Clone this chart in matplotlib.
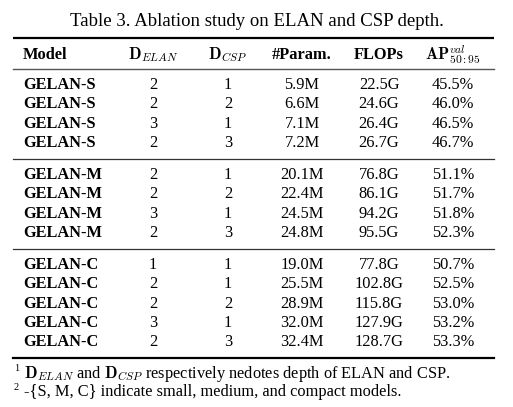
import matplotlib
matplotlib.use("Agg")
import matplotlib.pyplot as plt

plt.rc("font", family="Liberation Serif")
plt.rc("mathtext", fontset="cm")

# table data
models = ["GELAN-S"] * 4 + ["GELAN-M"] * 4 + ["GELAN-C"] * 5
d_elan = [2, 2, 3, 2, 2, 2, 3, 2, 1, 2, 2, 3, 2]
d_csp = [1, 2, 1, 3, 1, 2, 1, 3, 1, 1, 2, 1, 3]
params = ["5.9M", "6.6M", "7.1M", "7.2M",
          "20.1M", "22.4M", "24.5M", "24.8M",
          "19.0M", "25.5M", "28.9M", "32.0M", "32.4M"]
flops = ["22.5G", "24.6G", "26.4G", "26.7G",
         "76.8G", "86.1G", "94.2G", "95.5G",
         "77.8G", "102.8G", "115.8G", "127.9G", "128.7G"]
ap = ["45.5%", "46.0%", "46.5%", "46.7%",
      "51.1%", "51.7%", "51.8%", "52.3%",
      "50.7%", "52.5%", "53.0%", "53.2%", "53.3%"]
group_sizes = [4, 4, 5]

D_ELAN = r"\mathbf{D}_{ELAN}"
D_CSP = r"\mathbf{D}_{CSP}"
headers = ["Model", "$" + D_ELAN + "$", "$" + D_CSP + "$",
           "#Param.", "FLOPs", r"$\mathbf{AP}^{val}_{50{:}95}$"]
title = "Table 3. Ablation study on ELAN and CSP depth."
notes = ["$" + D_ELAN + "$ and $" + D_CSP + "$ respectively nedotes depth of ELAN and CSP.",
         "-{S, M, C} indicate small, medium, and compact models."]

W, H = 513, 407
fig = plt.figure(figsize=(W / 100, H / 100), dpi=100)
ax = fig.add_axes([0, 0, 1, 1])
ax.set_xlim(0, W)
ax.set_ylim(H, 0)
ax.axis("off")

fs = 11.8
col_x = [23, 153, 228, 302, 379, 453]
x0, x1 = 13, 494

ax.text(W / 2, 21, title, ha="center", va="center", fontsize=13.5)

ax.plot([x0, x1], [38, 38], color="black", lw=1.6, solid_capstyle="butt")
hy = 55
for i, h in enumerate(headers):
    ax.text(col_x[i], hy, h, ha="left" if i == 0 else "center", va="center",
            fontsize=fs, fontweight="bold")
ax.plot([x0, x1], [69, 69], color="#555555", lw=1.0)

row_h = 19.4
y = 85
k = 0
for g, n in enumerate(group_sizes):
    for _ in range(n):
        cells = [models[k], str(d_elan[k]), str(d_csp[k]), params[k], flops[k], ap[k]]
        for i, c in enumerate(cells):
            ax.text(col_x[i], y, c, ha="left" if i == 0 else "center", va="center",
                    fontsize=fs, fontweight="bold" if i == 0 else "normal")
        y += row_h
        k += 1
    rule_y = y - row_h / 2 + 6
    if g < len(group_sizes) - 1:
        ax.plot([x0, x1], [rule_y, rule_y], color="#333333", lw=0.9)
        y = rule_y + 16
    else:
        ax.plot([x0, x1], [rule_y, rule_y], color="black", lw=1.6)

# footnotes as one block, markers as one block
ax.text(24, 364, "\n".join(notes), ha="left", va="top", fontsize=11.8,
        linespacing=1.0)
ax.text(14, 364, "1\n\n2", ha="left", va="top", fontsize=7.5, linespacing=1.05)

fig.savefig("out.png", dpi=100)
